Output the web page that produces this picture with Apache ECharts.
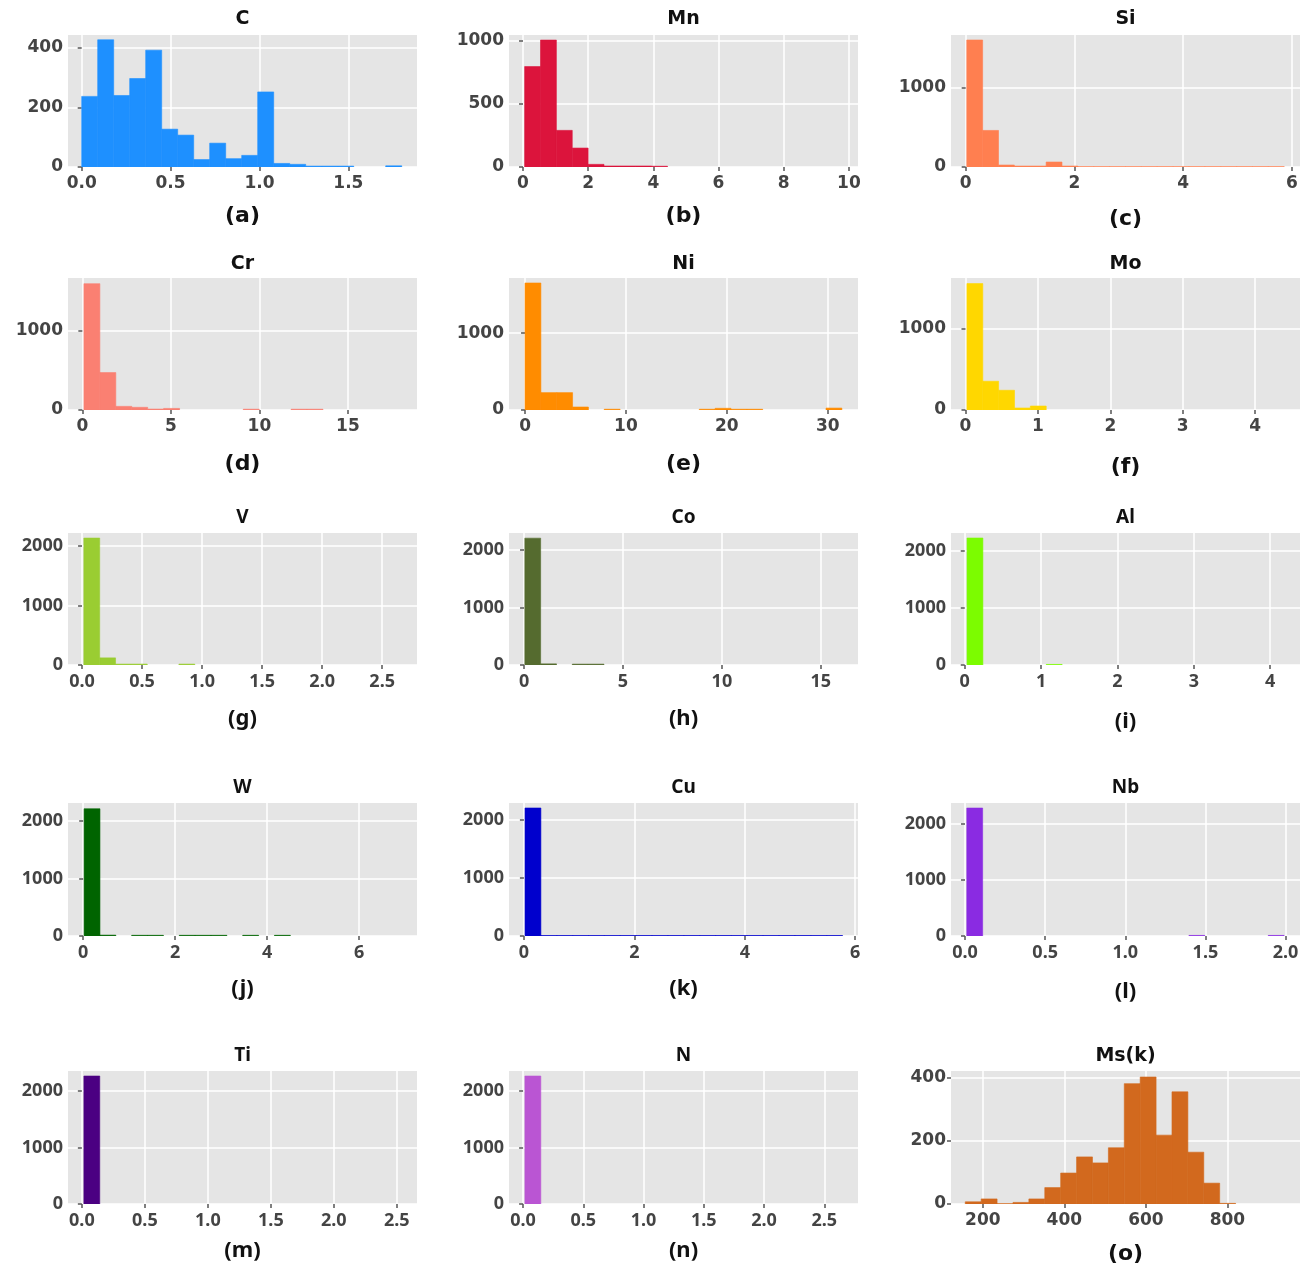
<!DOCTYPE html>
<html>
<head>
<meta charset="utf-8">
<script src="https://cdn.jsdelivr.net/npm/echarts@6/dist/echarts.min.js"></script>
<style>
html,body{margin:0;padding:0;background:#fff;}
#chart{width:1308px;height:1270px;}
</style>
</head>
<body>
<div id="chart"></div>
<script>
// ---- data ----
const titles = ['C','Mn','Si','Cr','Ni','Mo','V','Co','Al','W','Cu','Nb','Ti','N','Ms(k)'];
const subLabels = ['(a)','(b)','(c)','(d)','(e)','(f)','(g)','(h)','(i)','(j)','(k)','(l)','(m)','(n)','(o)'];
const colors = ['#1E90FF','#DC143C','#FF7F50','#FA8072','#FF8C00','#FFD700','#9ACD32','#556B2F','#7CFC00','#006400','#0000CD','#8A2BE2','#4B0082','#BA55D3','#D2691E'];

// histogram bins: first edge and bin width (20 bins each)
const binStart = [0.0, 0.05, 0.02, 0.09, 0.0, 0.02, 0.015, 0.04, 0.03, 0.02, 0.02, 0.011, 0.016, 0.015, 157];
const binWidth = [0.09, 0.487, 0.292, 0.9, 1.57, 0.219, 0.132, 0.8, 0.2075, 0.345, 0.2875, 0.099, 0.126, 0.132, 39];

const countsC  = [237, 427, 240, 297, 392, 127, 107, 25, 80, 28, 39, 252, 12, 9, 3, 3, 3, 0, 0, 4];
const countsMn = [795, 1005, 290, 150, 21, 8, 8, 8, 6, 0, 0, 0, 0, 0, 0, 0, 0, 0, 0, 0];
const countsSi = [1605, 462, 25, 12, 12, 63, 12, 4, 4, 4, 4, 4, 4, 4, 4, 4, 4, 4, 4, 4];
const countsCr = [1595, 473, 46, 34, 12, 20, 0, 0, 0, 0, 10, 0, 0, 10, 10, 0, 0, 0, 0, 0];
const countsNi = [1652, 226, 226, 39, 0, 10, 0, 0, 0, 0, 0, 10, 22, 10, 10, 0, 0, 0, 0, 25];
const countsMo = [1556, 354, 243, 25, 49, 0, 0, 0, 0, 0, 0, 0, 0, 0, 0, 0, 0, 0, 0, 0];
const countsV  = [2135, 120, 15, 15, 0, 0, 15, 0, 0, 0, 0, 0, 0, 0, 0, 0, 0, 0, 0, 0];
const countsCo = [2210, 20, 0, 15, 15, 0, 0, 0, 0, 0, 0, 0, 0, 0, 0, 0, 0, 0, 0, 0];
const countsAl = [2230, 0, 0, 0, 0, 10, 0, 0, 0, 0, 0, 0, 0, 0, 0, 0, 0, 0, 0, 0];
const countsW  = [2210, 15, 0, 12, 12, 0, 12, 12, 12, 0, 12, 0, 12, 0, 0, 0, 0, 0, 0, 0];
const countsCu = [2207, 8, 8, 8, 8, 8, 8, 8, 8, 8, 8, 8, 8, 8, 8, 8, 8, 8, 8, 8];
const countsNb = [2285, 0, 0, 0, 0, 0, 0, 0, 0, 0, 0, 0, 0, 0, 10, 0, 0, 0, 0, 10];
const countsTi = [2265, 0, 0, 0, 0, 0, 0, 0, 0, 0, 0, 0, 0, 0, 0, 0, 0, 0, 0, 0];
const countsN  = [2265, 0, 0, 0, 0, 0, 0, 0, 0, 0, 0, 0, 0, 0, 0, 0, 0, 0, 0, 0];
const countsMs = [7, 16, 1, 5, 16, 52, 98, 149, 130, 178, 381, 402, 218, 355, 164, 66, 2, 0, 0, 0];
const allCounts = [countsC, countsMn, countsSi, countsCr, countsNi, countsMo, countsV, countsCo, countsAl, countsW, countsCu, countsNb, countsTi, countsN, countsMs];

// axis ranges
const xMin = [-0.077, -0.43, -0.27, -0.81, -1.59, -0.2, -0.117, -0.76, -0.18, -0.33, -0.27, -0.0875, -0.11, -0.117, 122];
const xMax = [1.886, 10.28, 6.15, 18.9, 33.0, 4.62, 2.79, 16.88, 4.39, 7.26, 6.05, 2.09, 2.66, 2.78, 978];
const yMax = [443, 1045, 1668, 1667, 1717, 1625, 2220, 2300, 2318, 2310, 2293, 2375, 2354, 2354, 421];

// tick values
const xTicks = [
  [0, 0.5, 1.0, 1.5], [0, 2, 4, 6, 8, 10], [0, 2, 4, 6],
  [0, 5, 10, 15], [0, 10, 20, 30], [0, 1, 2, 3, 4],
  [0, 0.5, 1.0, 1.5, 2.0, 2.5], [0, 5, 10, 15], [0, 1, 2, 3, 4],
  [0, 2, 4, 6], [0, 2, 4, 6], [0, 0.5, 1.0, 1.5, 2.0],
  [0, 0.5, 1.0, 1.5, 2.0, 2.5], [0, 0.5, 1.0, 1.5, 2.0, 2.5], [200, 400, 600, 800]
];
const xDecimals = [1, 0, 0, 0, 0, 0, 1, 0, 0, 0, 0, 1, 1, 1, 0];
const yTicks = [
  [0, 200, 400], [0, 500, 1000], [0, 1000],
  [0, 1000], [0, 1000], [0, 1000],
  [0, 1000, 2000], [0, 1000, 2000], [0, 1000, 2000],
  [0, 1000, 2000], [0, 1000, 2000], [0, 1000, 2000],
  [0, 1000, 2000], [0, 1000, 2000], [0, 200, 400]
];

// ---- layout ----
const colLeft = [68, 509, 951];
const colWidth = 349;
const rowTop = [35, 278, 533, 803, 1071];
const rowHeight = [132, 132, 132, 133, 133];
const titleY = [19, 264, 518, 788, 1056];
const subY = [216, 464, 719, 989, 1251];
const DV = 'DejaVu Sans';
const NS = 'Noto Sans';
const fontOf = i => (i < 6 || i === 14) ? DV : NS;

const grids = [], xAxes = [], yAxes = [], series = [], graphics = [];
for (let i = 0; i < 15; i++) {
  const r = Math.floor(i / 3), c = i % 3;
  const font = fontOf(i);
  const fs = font === DV ? 17 : 18;
  grids.push({
    left: colLeft[c], top: rowTop[r], width: colWidth, height: rowHeight[r],
    show: true, backgroundColor: '#E5E5E5', borderWidth: 0, containLabel: false
  });
  const dec = xDecimals[i];
  xAxes.push({
    type: 'value', gridIndex: i, min: xMin[i], max: xMax[i],
    axisLine: { show: false },
    axisTick: { show: true, length: 4, lineStyle: { color: '#555', width: 1.5 }, customValues: xTicks[i] },
    axisLabel: { show: true, customValues: xTicks[i], margin: 8, color: '#444', fontFamily: font, fontWeight: 'bold', fontSize: fs,
      formatter: v => Number(v).toFixed(dec) },
    splitLine: { show: true, lineStyle: { color: '#ffffff', width: 1.5 } }
  });
  yAxes.push({
    type: 'value', gridIndex: i, min: 0, max: yMax[i],
    axisLine: { show: false },
    axisTick: { show: true, length: 4, lineStyle: { color: '#555', width: 1.5 }, customValues: yTicks[i] },
    axisLabel: { show: true, customValues: yTicks[i], margin: 5, color: '#444', fontFamily: font, fontWeight: 'bold', fontSize: fs,
      formatter: v => String(Math.round(v)) },
    splitLine: { show: true, lineStyle: { color: '#ffffff', width: 1.5 } }
  });
  const counts = allCounts[i];
  const data = counts.map((v, k) => [binStart[i] + k * binWidth[i], binStart[i] + (k + 1) * binWidth[i], v]);
  const col = colors[i];
  series.push({
    type: 'custom', xAxisIndex: i, yAxisIndex: i, clip: true,
    encode: { x: [0, 1], y: 2 },
    data: data,
    renderItem: function (params, api) {
      const x0 = api.value(0), x1 = api.value(1), y = api.value(2);
      if (!y) return null;
      const p0 = api.coord([x0, y]);
      const p1 = api.coord([x1, 0]);
      return {
        type: 'rect',
        shape: { x: p0[0], y: p0[1], width: p1[0] - p0[0], height: p1[1] - p0[1] },
        style: { fill: col, stroke: col, lineWidth: 0.6 }
      };
    }
  });
  const cx = colLeft[c] + colWidth / 2;
  graphics.push({
    type: 'text', x: cx, y: titleY[r],
    style: { text: titles[i], fill: '#111', font: 'bold 19px "' + font + '"', textAlign: 'center', textVerticalAlign: 'middle' }
  });
  graphics.push({
    type: 'text', x: cx, y: subY[r] + (c === 2 ? 3 : 0),
    style: { text: subLabels[i], fill: '#111', font: 'bold 22px "' + font + '"', textAlign: 'center', textVerticalAlign: 'middle' }
  });
}

const chart = echarts.init(document.getElementById('chart'), null, { renderer: 'canvas' });
chart.setOption({
  backgroundColor: '#ffffff',
  animation: false,
  grid: grids,
  xAxis: xAxes,
  yAxis: yAxes,
  series: series,
  graphic: graphics
});
</script>
</body>
</html>
